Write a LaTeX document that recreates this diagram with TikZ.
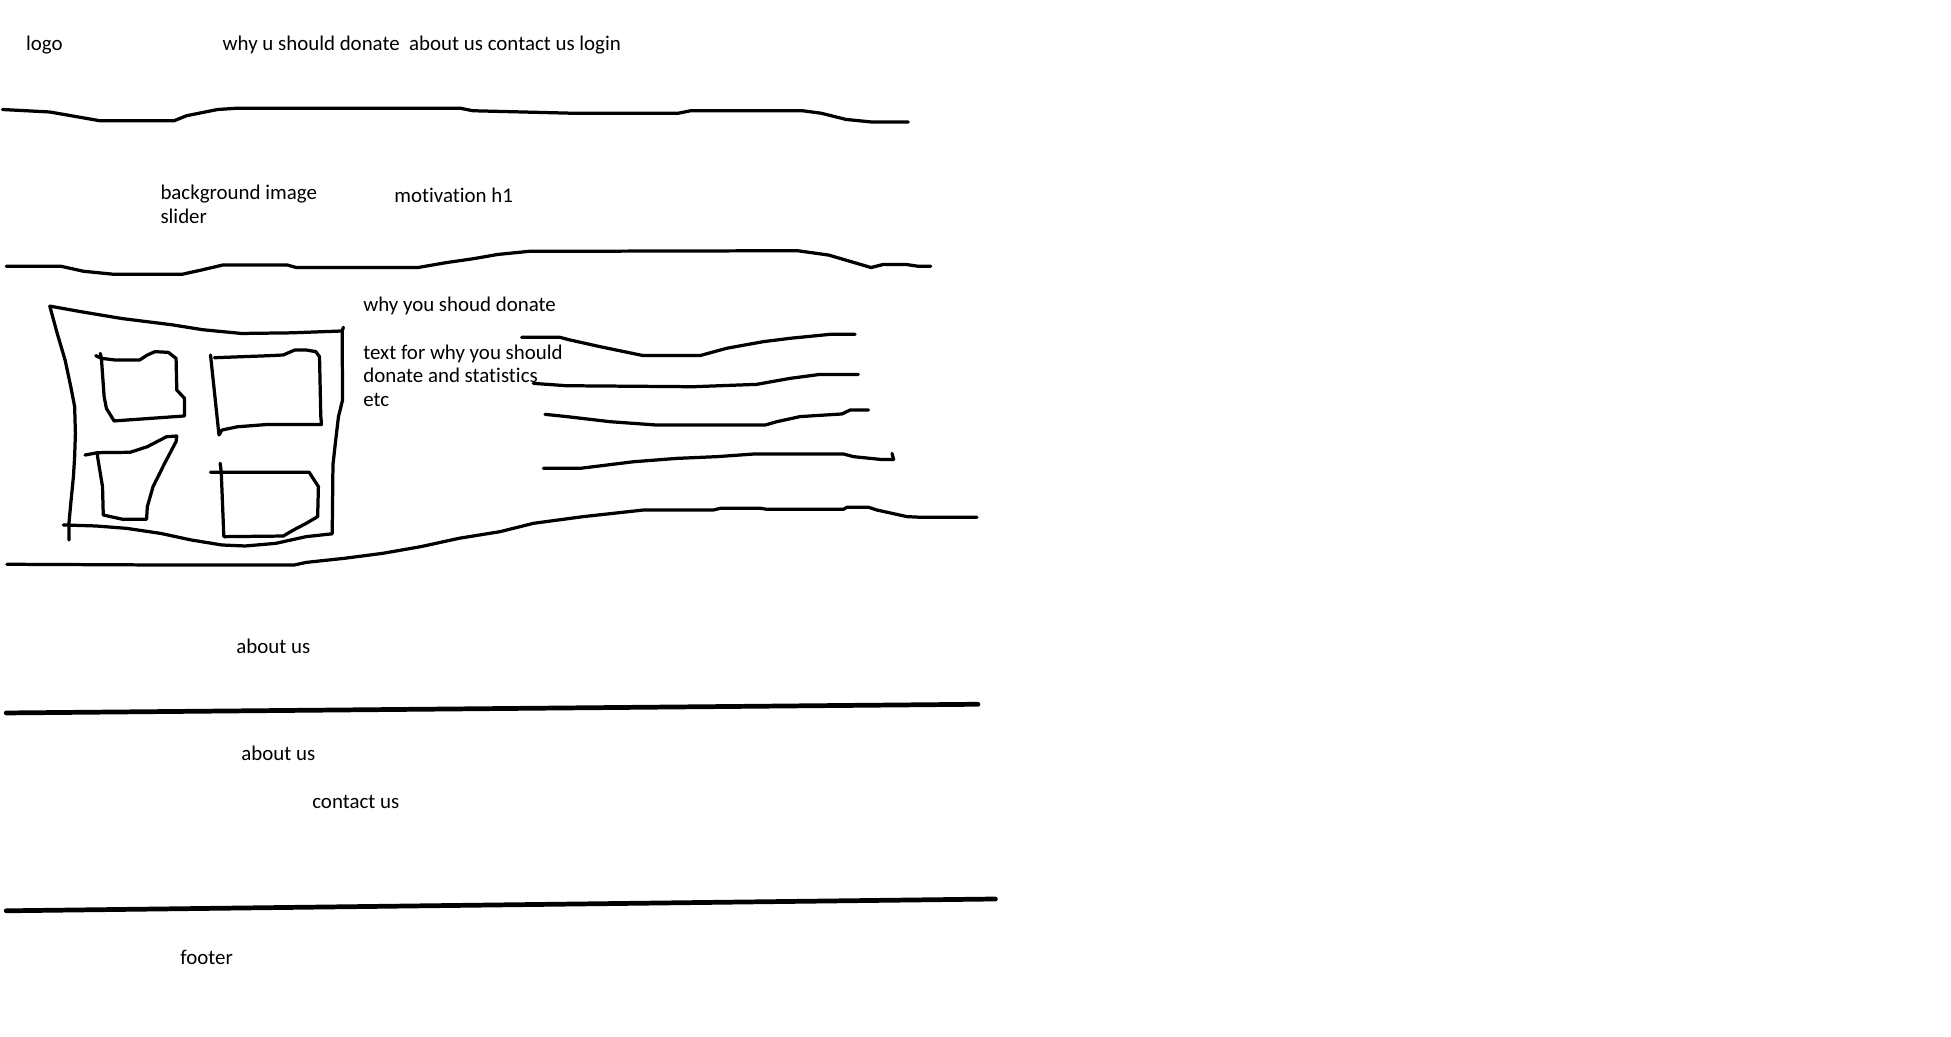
\documentclass[tikz,border=0pt]{standalone}
\usepackage{fontspec}
\setmainfont[RawFeature={-liga}]{Carlito}
\begin{document}
\begin{tikzpicture}[x=1pt,y=-1pt,
  pen/.style={line width=2.6pt,line join=round,line cap=round,black},
  thickpen/.style={line width=3.8pt,line cap=round,black},
  lbl/.style={anchor=mid west,inner sep=0pt,outer sep=0pt,font=\fontsize{16.8}{19}\selectfont,align=left}]
\useasboundingbox[fill=white] (0,0) rectangle (1568,833);

% texts
\node[lbl] (logo) at (21,38) {logo};
\node[lbl] (menu) at (179,38) {why u should donate\ \ about us contact us login};
\node[lbl,anchor=north west] (bg) at (129,149) {background image\\slider};
\node[lbl] (motiv) at (317,160) {motivation h1};
\node[lbl] (why) at (292,248) {why you shoud donate};
\node[lbl,anchor=north west] (txt) at (292,277) {text for why you should\\donate and statistics\\etc};
\node[lbl] (about1) at (190,523) {about us};
\node[lbl] (about2) at (194,609) {about us};
\node[lbl] (contact) at (251,647) {contact us};
\node[lbl] (footer) at (145,773) {footer};

% header separator
\draw[pen] (2,88) -- (40,90) -- (80,97) -- (140,97) -- (150,93) -- (175,88) -- (190,87) -- (370,87) -- (380,89) -- (460,91) -- (545,91) -- (555,89) -- (645,89) -- (660,91) -- (680,96) -- (700,98) -- (730,98);

% hero separator
\draw[pen] (5,214) -- (49,214) -- (67,218) -- (92,220.5) -- (146,220.5) -- (162,217) -- (179,213) -- (231,213) -- (238,215) -- (336,215) -- (359,211) -- (380,208) -- (400,204.5) -- (425,202) -- (641,201.5) -- (666,205) -- (700,215) -- (710,212.5) -- (728,212.5) -- (738,214) -- (748,214);

% image frame
\draw[pen] (276,263) -- (275,266) -- (234,267.5) -- (194,268) -- (163,265) -- (138,261) -- (98,256) -- (65,250.5) -- (40,246)
  -- (46,268) -- (52.3,289.3) -- (56.9,310.8) -- (60,326.8) -- (60.6,348.3) -- (60,367) -- (59,383.1) -- (56.9,404.5) -- (55.4,420.6) -- (55.4,434);
\draw[pen] (275,266) -- (275.3,321.5) -- (272,335) -- (270,352) -- (267.6,373.4) -- (267,429)
  -- (246,431.3) -- (221.5,436.7) -- (197,438.8) -- (178.4,438) -- (153.8,434) -- (129.2,428.7) -- (101.5,424.6) -- (76.9,422.7) -- (50.8,421.9);

% inner picture 1
\draw[pen] (80.6,284) -- (81.5,288) -- (83.7,318.8) -- (85.5,328.2) -- (91.7,338.3) -- (148.3,334.3) -- (148.3,320.1) -- (142.1,313.5) -- (141.5,288) -- (135.3,283.2) -- (124.6,282.6) -- (118.4,285.3) -- (112.3,289.3) -- (92.3,289.3) -- (81.5,288) -- (76.9,285.8);
% inner picture 2
\draw[pen] (169.2,285.3) -- (176,349.6) -- (178.4,345.6) -- (190.7,343) -- (215.3,341.1) -- (258.4,341.1) -- (257.8,334.4) -- (256.8,286.7) -- (253.8,282.6) -- (246.1,281.3) -- (236.9,281.3) -- (227.6,285.3) -- (215.3,285.9) -- (172.3,287.5);
% inner picture 3
\draw[pen] (68.3,365.7) -- (78.4,363.8) -- (104.6,363.5) -- (118.4,359) -- (133.8,351) -- (142.1,350.4) -- (141.5,354.9) -- (132.3,372.4) -- (123,391.1) -- (118.4,407.2) -- (117.8,417.3) -- (98.4,417.3) -- (83,413.9) -- (82.4,391.1) -- (78.4,367) -- (78.4,363.8);
% inner picture 4
\draw[pen] (176.9,372.3) -- (177.8,379) -- (179.9,431.3) -- (227.6,430.8) -- (236.9,425.4) -- (246.1,420.6) -- (255.3,415.2) -- (255.9,391.1) -- (248.5,379.6) -- (169.2,379.6);

% text lines
\draw[pen] (419.2,271.1) -- (450,271.1) -- (458,273.2) -- (482.2,278.6) -- (517,285.8) -- (562.5,285.8) -- (584,279.9) -- (613.4,274.6) -- (634.9,271.9) -- (667,268.7) -- (687.2,268.7);
\draw[pen] (428.6,308.1) -- (455.4,310) -- (557.2,310.8) -- (608.1,308.9) -- (634.9,304.1) -- (659,300.9) -- (689.8,300.9);
\draw[pen] (438,333) -- (455.4,334.8) -- (490.3,338.9) -- (527.8,341.6) -- (614.9,341.6) -- (624.3,338.9) -- (643.1,334.8) -- (676.6,332.7) -- (683.3,329.5) -- (698,329.5);
\draw[pen] (436.7,376.4) -- (466.2,376.4) -- (509.1,371.1) -- (544,368.4) -- (576.2,367) -- (605.6,364.9) -- (678,364.9) -- (686,367) -- (707.5,369.2) -- (718.2,369.2) -- (716.9,364.4);

% section separator
\draw[pen] (5.5,453.5) -- (113.8,454) -- (236.9,454) -- (246,452) -- (276.8,448.7) -- (307.6,444.7) -- (338.4,439.3) -- (369,432.6) -- (401.8,427.3) -- (428.6,420.6) -- (468.8,415.2) -- (517,409.9) -- (573.3,409.9) -- (578.9,408.5) -- (611,408.5) -- (616.3,409.3) -- (677.9,409.3) -- (680.6,407.7) -- (698,407.7) -- (704.8,409.9) -- (728.9,415.2) -- (739.6,415.7) -- (785.2,415.7);

% straight separators
\draw[thickpen] (5,573) -- (786,566);
\draw[thickpen] (5,732) -- (800,722.5);
\end{tikzpicture}
\end{document}
